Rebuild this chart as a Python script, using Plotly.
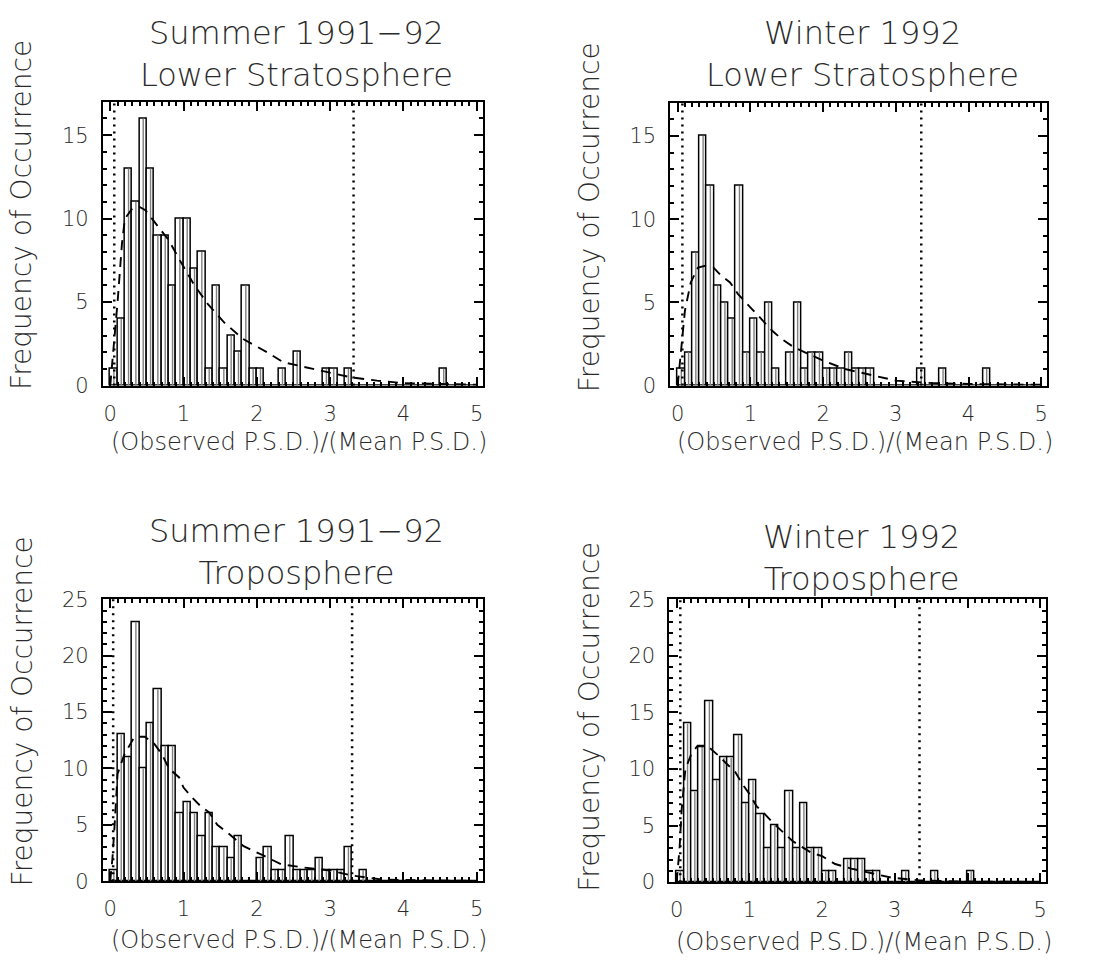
import plotly.graph_objects as go

# ---------------- data ----------------
bin_centers = [0.05, 0.15, 0.25, 0.35, 0.45, 0.55, 0.65, 0.75, 0.85, 0.95,
               1.05, 1.15, 1.25, 1.35, 1.45, 1.55, 1.65, 1.75, 1.85, 1.95,
               2.05, 2.15, 2.25, 2.35, 2.45, 2.55, 2.65, 2.75, 2.85, 2.95,
               3.05, 3.15, 3.25, 3.35, 3.45, 3.55, 3.65, 3.75, 3.85, 3.95,
               4.05, 4.15, 4.25, 4.35, 4.45, 4.55, 4.65, 4.75, 4.85, 4.95]

counts_summer_strat = [1, 4, 13, 11, 16, 13, 9, 9, 6, 10,
                       10, 7, 8, 1, 6, 1, 3, 2, 6, 1,
                       1, 0, 0, 1, 0, 2, 0, 0, 0, 1,
                       1, 0, 1, 0, 0, 0, 0, 0, 0, 0,
                       0, 0, 0, 0, 0, 1, 0, 0, 0, 0]
counts_winter_strat = [1, 2, 8, 15, 12, 6, 5, 4, 12, 2,
                       4, 2, 5, 1, 0, 2, 5, 1, 2, 2,
                       1, 1, 1, 2, 1, 1, 1, 0, 0, 0,
                       0, 0, 0, 1, 0, 0, 1, 0, 0, 0,
                       0, 0, 1, 0, 0, 0, 0, 0, 0, 0]
counts_summer_trop = [1, 13, 11, 23, 10, 14, 17, 12, 12, 6,
                      7, 6, 4, 6, 3, 3, 2, 4, 0, 0,
                      2, 3, 1, 1, 4, 1, 1, 1, 2, 1,
                      1, 1, 3, 0, 1, 0, 0, 0, 0, 0,
                      0, 0, 0, 0, 0, 0, 0, 0, 0, 0]
counts_winter_trop = [1, 14, 8, 12, 16, 9, 11, 11, 13, 7,
                      9, 6, 3, 5, 3, 8, 3, 7, 3, 3,
                      1, 1, 0, 2, 2, 2, 1, 1, 0, 0,
                      0, 1, 0, 0, 0, 1, 0, 0, 0, 0,
                      1, 0, 0, 0, 0, 0, 0, 0, 0, 0]

fit_summer_strat_x = [0.0, 0.02, 0.06, 0.1, 0.16, 0.2, 0.3, 0.4, 0.48, 0.6, 0.8, 0.95,
                      1.15, 1.33, 1.55, 1.81, 2.14, 2.36, 2.66, 2.98, 3.28, 3.64, 4.0, 4.5, 5.0]
fit_summer_strat_y = [0.0, 1.0, 2.5, 5.0, 8.5, 10.0, 10.6, 10.7, 10.5, 9.8, 8.7, 7.5,
                      6.0, 4.9, 3.8, 2.8, 2.0, 1.4, 1.1, 0.8, 0.5, 0.3, 0.15, 0.1, 0.05]
fit_winter_strat_x = [0.0, 0.03, 0.06, 0.1, 0.18, 0.28, 0.38, 0.49, 0.6, 0.72, 0.83, 0.94,
                      1.06, 1.18, 1.3, 1.43, 1.6, 1.7, 1.9, 2.0, 2.3, 2.5, 2.68, 3.0, 3.5, 4.0, 5.0]
fit_winter_strat_y = [0.0, 1.5, 3.0, 4.5, 6.2, 7.1, 7.2, 7.1, 6.6, 6.2, 5.5, 5.0,
                      4.4, 3.9, 3.3, 2.8, 2.3, 2.1, 1.7, 1.5, 1.0, 0.8, 0.6, 0.3, 0.15, 0.1, 0.05]
fit_summer_trop_x = [0.0, 0.03, 0.06, 0.1, 0.19, 0.33, 0.47, 0.6, 0.71, 0.8, 0.94, 1.0,
                     1.12, 1.24, 1.35, 1.46, 1.6, 1.82, 2.08, 2.33, 2.65, 3.0, 3.3, 3.7, 4.0, 5.0]
fit_summer_trop_y = [0.0, 2.0, 5.0, 9.5, 11.2, 12.8, 12.8, 12.2, 11.2, 10.0, 9.2, 8.3,
                     7.4, 6.6, 6.1, 5.0, 4.3, 3.1, 2.3, 1.5, 1.2, 0.95, 0.5, 0.15, 0.1, 0.02]
fit_winter_trop_x = [0.0, 0.04, 0.07, 0.12, 0.2, 0.28, 0.35, 0.43, 0.5, 0.59, 0.68, 0.8,
                     0.9, 1.0, 1.1, 1.2, 1.33, 1.47, 1.6, 1.7, 1.85, 2.0, 2.18, 2.4, 2.7,
                     2.95, 3.35, 4.0, 5.0]
fit_winter_trop_y = [0.0, 3.0, 6.5, 10.0, 11.3, 12.0, 12.0, 12.0, 11.6, 11.1, 10.5, 9.8,
                     8.7, 7.8, 6.7, 6.1, 5.2, 4.4, 3.6, 3.2, 2.6, 2.3, 1.6, 1.2, 0.8,
                     0.4, 0.15, 0.05, 0.02]

thresholds_summer_strat = [0.055, 3.32]
thresholds_winter_strat = [0.065, 3.35]
thresholds_summer_trop = [0.04, 3.30]
thresholds_winter_trop = [0.05, 3.34]

titles = ["Summer 1991\u221292<br>Lower Stratosphere",
          "Winter 1992<br>Lower Stratosphere",
          "Summer 1991\u221292<br>Troposphere",
          "Winter 1992<br>Troposphere"]
y_label = "Frequency of Occurrence"
x_label = "(Observed P.S.D.)/(Mean P.S.D.)"
x_ticks = [0, 1, 2, 3, 4, 5]

# ---------------- layout geometry (pixels) ----------------
W, H = 1095, 979
FONT = "DejaVu Sans"
INK = "#2a2a2a"
WEIGHT = 200

panels = [
    dict(counts=counts_summer_strat, fx=fit_summer_strat_x, fy=fit_summer_strat_y,
         thr=thresholds_summer_strat, yr=[0, 17], box=(103, 483, 92, 383),
         tc=43, xt=441, yt=208, ylx=22),
    dict(counts=counts_winter_strat, fx=fit_winter_strat_x, fy=fit_winter_strat_y,
         thr=thresholds_winter_strat, yr=[0, 17], box=(671, 1048, 93, 383),
         tc=43, xt=441, yt=210, ylx=590),
    dict(counts=counts_summer_trop, fx=fit_summer_trop_x, fy=fit_summer_trop_y,
         thr=thresholds_summer_trop, yr=[0, 25], box=(103, 483, 602, 891),
         tc=554, xt=951, yt=717, ylx=22),
    dict(counts=counts_winter_trop, fx=fit_winter_trop_x, fy=fit_winter_trop_y,
         thr=thresholds_winter_trop, yr=[0, 25], box=(670, 1047, 602, 892),
         tc=560, xt=953, yt=722, ylx=590),
]

fig = go.Figure()
annotations = []
shapes = []

for i, p in enumerate(panels, start=1):
    xa = "x" if i == 1 else f"x{i}"
    ya = "y" if i == 1 else f"y{i}"
    x0, x1, y0, y1 = p["box"]
    xdom = [x0 / W, x1 / W]
    ydom = [1 - y1 / H, 1 - y0 / H]

    fig.add_trace(go.Bar(
        x=bin_centers, y=p["counts"], width=0.1,
        marker=dict(color="white", line=dict(color="black", width=1.5)),
        xaxis=xa, yaxis=ya, showlegend=False, hoverinfo="x+y"))

    # inner hatch line of each bar
    hx, hy = [], []
    for c, n in zip(bin_centers, p["counts"]):
        if n > 0:
            hx += [c, c, None]
            hy += [0, n, None]
    fig.add_trace(go.Scatter(x=hx, y=hy, mode="lines",
                             line=dict(color="#808080", width=1.4),
                             xaxis=xa, yaxis=ya, showlegend=False, hoverinfo="skip"))

    fig.add_trace(go.Scatter(x=p["fx"], y=p["fy"], mode="lines",
                             line=dict(color="black", width=1.9, dash="10px,7px"),
                             xaxis=xa, yaxis=ya, showlegend=False))

    for t in p["thr"]:
        shapes.append(dict(type="line", xref=xa, yref=f"{ya} domain",
                           x0=t, x1=t, y0=0, y1=1,
                           line=dict(color="black", width=2.5, dash="2px,5px")))

    axis_common = dict(showline=True, linecolor="black", linewidth=2, mirror="allticks",
                       ticks="inside", tickcolor="black", showgrid=False, zeroline=False,
                       tickfont=dict(family=FONT, size=21, color=INK, weight=WEIGHT))
    fig.update_layout(**{
        ("xaxis" if i == 1 else f"xaxis{i}"): dict(
            domain=xdom, anchor=ya, range=[-0.1, 5.08],
            tickmode="array", tickvals=x_ticks, ticklen=9, tickwidth=1.5,
            minor=dict(dtick=0.1, tick0=0, ticks="inside", ticklen=4, tickcolor="black", showgrid=False),
            ticklabelstandoff=8, **axis_common),
        ("yaxis" if i == 1 else f"yaxis{i}"): dict(
            domain=ydom, anchor=xa, range=p["yr"],
            dtick=5, tick0=0, ticklen=9, tickwidth=1.5,
            minor=dict(dtick=1, tick0=0, ticks="inside", ticklen=4, tickcolor="black", showgrid=False),
            ticklabelstandoff=8, **axis_common),
    })

    cx = (x0 + x1) / 2 / W
    annotations.append(dict(text=titles[i - 1], x=cx + 4 / W, y=1 - p["tc"] / H, xref="paper", yref="paper",
                            xanchor="center", yanchor="middle", showarrow=False, align="center",
                            font=dict(family=FONT, size=32, color=INK, weight=WEIGHT)))
    annotations.append(dict(text=x_label, x=cx + 6 / W, y=1 - p["xt"] / H, xref="paper", yref="paper",
                            xanchor="center", yanchor="middle", showarrow=False,
                            font=dict(family=FONT, size=24, color=INK, weight=WEIGHT)))
    annotations.append(dict(text=y_label, x=p["ylx"] / W, y=1 - p["yt"] / H, xref="paper", yref="paper",
                            xanchor="center", yanchor="middle", showarrow=False, textangle=-90,
                            font=dict(family=FONT, size=28, color=INK, weight=WEIGHT)))

fig.update_layout(width=W, height=H, margin=dict(l=0, r=0, t=0, b=0),
                  paper_bgcolor="white", plot_bgcolor="white",
                  barmode="overlay", bargap=0, showlegend=False,
                  annotations=annotations, shapes=shapes)

fig.write_html("out.html")
